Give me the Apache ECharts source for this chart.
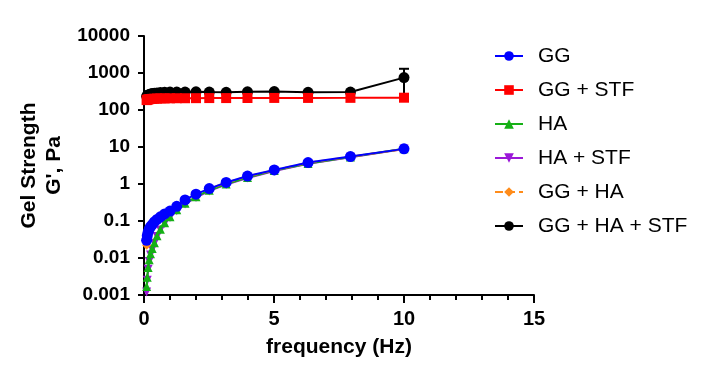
<!DOCTYPE html>
<html>
<head>
<meta charset="utf-8">
<script src="https://cdn.jsdelivr.net/npm/echarts@6/dist/echarts.min.js"></script>
<style>
html,body{margin:0;padding:0;background:#fff;}
#chart{width:708px;height:384px;}
</style>
</head>
<body>
<div id="chart"></div>
<script>
// Frequencies (Hz)
var freq = [0.1, 0.126, 0.158, 0.2, 0.251, 0.316, 0.398, 0.501, 0.631, 0.794, 1, 1.26, 1.58, 2, 2.51, 3.16, 3.98, 5.01, 6.31, 7.94, 10];
// G' (Pa) per formulation
var gg       = [0.03, 0.04, 0.05, 0.06, 0.07, 0.08, 0.095, 0.11, 0.13, 0.155, 0.186, 0.25, 0.37, 0.53, 0.75, 1.1, 1.64, 2.4, 3.8, 5.5, 8.9];
var ggStf    = [185, 190, 193, 196, 198, 200, 202, 204, 205, 206, 207, 208, 208, 209, 210, 210, 211, 212, 212, 213, 215];
var ha       = [0.0017, 0.003, 0.0055, 0.009, 0.013, 0.018, 0.026, 0.04, 0.06, 0.09, 0.13, 0.2, 0.3, 0.45, 0.68, 1.0, 1.5, 2.3, 3.6, 5.4, 9.0];
var haStf    = [0.0012, 0.0025, 0.005, 0.008, 0.012, 0.017, 0.025, 0.038, 0.057, 0.085, 0.125, 0.19, 0.29, 0.43, 0.65, 0.97, 1.45, 2.25, 3.5, 5.3, 8.8];
var ggHa     = [0.022, 0.032, 0.042, 0.052, 0.062, 0.073, 0.087, 0.1, 0.12, 0.145, 0.175, 0.24, 0.36, 0.52, 0.74, 1.08, 1.6, 2.35, 3.75, 5.45, 8.8];
var ggHaStf  = [235, 245, 255, 262, 270, 278, 285, 290, 295, 300, 305, 305, 305, 310, 305, 300, 310, 315, 300, 305, 750];
// Error bar of GG + HA + STF: [freq, low, high]
var ggHaStfErr = [[10, 200, 1300]];
var yTicks = ['0.001', '0.01', '0.1', '1', '10', '100', '1000', '10000'];
var names = ['GG', 'GG + STF', 'HA', 'HA + STF', 'GG + HA', 'GG + HA + STF'];

function pairs(v){ return freq.map(function(f,i){ return [f, v[i]]; }); }

var FONT = 'Liberation Sans';
function lineSeries(name, vals, color, symbol, size, z, dashed){
  return {
    name: name, type: 'line', data: pairs(vals), z: z,
    symbol: symbol, symbolSize: size, showSymbol: true,
    lineStyle: {color: color, width: 2, type: dashed ? 'dashed' : 'solid'},
    itemStyle: {color: color},
    emphasis: {disabled: true}
  };
}

var chart = echarts.init(document.getElementById('chart'));
chart.setOption({
  animation: false,
  backgroundColor: '#fff',
  grid: {left: 144, right: 174, top: 36, bottom: 89, containLabel: false},
  legend: {
    data: names, orient: 'vertical', left: 489, top: 40,
    itemWidth: 28, itemHeight: 12, itemGap: 12,
    textStyle: {fontFamily: FONT, fontSize: 21, lineHeight: 22, color: '#000', padding: [0, 0, 0, 10]}
  },
  xAxis: {
    type: 'value', min: 0, max: 15, interval: 5,
    name: 'frequency (Hz)', nameLocation: 'middle', nameGap: 42,
    nameTextStyle: {fontFamily: FONT, fontWeight: 'bold', fontSize: 21, color: '#000'},
    axisLine: {lineStyle: {color: '#000', width: 2}},
    axisTick: {show: true, length: 8, lineStyle: {color: '#000', width: 2}},
    minorTick: {show: true, splitNumber: 5, length: 5, lineStyle: {color: '#000', width: 2}},
    splitLine: {show: false},
    axisLabel: {fontFamily: FONT, fontWeight: 'bold', fontSize: 20, color: '#000', margin: 14}
  },
  yAxis: {
    type: 'log', logBase: 10, min: 0.001, max: 10000,
    name: 'Gel Strength\nG\', Pa', nameLocation: 'middle', nameGap: 76,
    nameTextStyle: {fontFamily: FONT, fontWeight: 'bold', fontSize: 21, color: '#000', lineHeight: 25},
    axisLine: {lineStyle: {color: '#000', width: 2}},
    axisTick: {show: true, length: 6, lineStyle: {color: '#000', width: 2}},
    splitLine: {show: false},
    axisLabel: {fontFamily: FONT, fontWeight: 'bold', fontSize: 19, color: '#000', margin: 14,
      formatter: function(v){ var i = Math.round(Math.log10(v)) + 3; return yTicks[i] !== undefined ? yTicks[i] : ''; }}
  },
  series: [
    lineSeries('GG', gg, '#0000ff', 'circle', 11, 6),
    lineSeries('GG + STF', ggStf, '#ff0000', 'rect', 10, 5),
    lineSeries('HA', ha, '#16b016', 'triangle', 9, 4),
    lineSeries('HA + STF', haStf, '#9b18d8', 'path://M0,0 L10,0 L5,10 Z', 9, 3),
    lineSeries('GG + HA', ggHa, '#ff8c1a', 'diamond', 9, 5, true),
    lineSeries('GG + HA + STF', ggHaStf, '#000000', 'circle', 11, 4),
    {
      type: 'custom', name: 'err', z: 4, data: ggHaStfErr,
      renderItem: function(params, api){
        var x = api.value(0);
        var lo = api.coord([x, api.value(1)]);
        var hi = api.coord([x, api.value(2)]);
        var st = {stroke: '#000', lineWidth: 2};
        return {type: 'group', children: [
          {type: 'line', shape: {x1: lo[0], y1: lo[1], x2: hi[0], y2: hi[1]}, style: st},
          {type: 'line', shape: {x1: hi[0]-5, y1: hi[1], x2: hi[0]+5, y2: hi[1]}, style: st},
          {type: 'line', shape: {x1: lo[0]-5, y1: lo[1], x2: lo[0]+5, y2: lo[1]}, style: st}
        ]};
      }
    }
  ]
});
</script>
</body>
</html>
